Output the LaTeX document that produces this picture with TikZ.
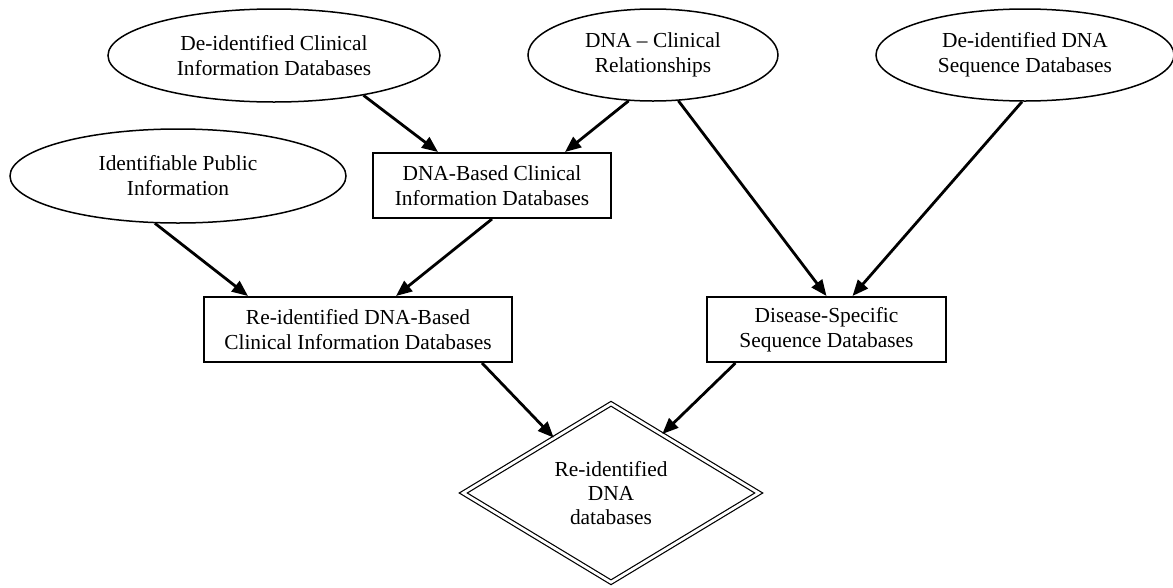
\documentclass[tikz,border=0pt]{standalone}
\usepackage{fontspec}
\setmainfont{Liberation Serif}
\usetikzlibrary{arrows.meta,shapes.geometric}

\begin{document}
\begin{tikzpicture}[
      x=1pt, y=-1pt,
      txt/.style={align=center, inner sep=0pt, font=\fontsize{21.4}{25}\selectfont},
      src/.style={txt, draw, ellipse, line width=1.5pt},
      db/.style={txt, draw, rectangle, line width=2pt, minimum height=65pt},
      goal/.style={txt, draw, diamond, double, double distance=2.8pt, line width=1.2pt,
                   minimum width=296pt, minimum height=179pt, font=\fontsize{21.4}{24}\selectfont},
      arrow/.style={-{Triangle[length=16pt,width=13pt]}, line width=2.8pt},
    ]
    \useasboundingbox (0,0) rectangle (1173,587);

    % source databases
    \node[src, minimum width=332pt, minimum height=93pt] (e1) at (274,55.5)
      {De-identified Clinical\\Information Databases};
    \node[src, minimum width=250pt, minimum height=92pt] (e2) at (653,55)
      {DNA -- Clinical\\Relationships};
    \node[src, minimum width=298pt, minimum height=92pt] (e3) at (1025,55)
      {De-identified DNA\\Sequence Databases};
    \node[src, minimum width=336pt, minimum height=94pt] (e4) at (178,176)
      {Identifiable Public\\Information};

    % derived databases
    \node[db, minimum width=238pt] (r1) at (492,185.5)
      {DNA-Based Clinical\\Information Databases};
    \node[db, minimum width=308pt] (r2) at (358,329.5)
      {Re-identified DNA-Based\\Clinical Information Databases};
    \node[db, minimum width=239pt] (r3) at (826.5,329.5)
      {Disease-Specific\\Sequence Databases};

    % result
    \node[goal] (out) at (611,493) {Re-identified\\DNA\\databases};

    % links
    \draw[arrow] (e1.-24) -- ([xshift=-54pt]r1.north);
    \draw[arrow] (e2.-118) -- ([xshift=73pt]r1.north);
    \draw[arrow] (e2.-61) -- (r3.north);
    \draw[arrow] ([xshift=-3pt]e3.south) -- ([xshift=26pt]r3.north);
    \draw[arrow] (e4.-116) -- ([xshift=-110pt]r2.north);
    \draw[arrow] (r1.south) -- ([xshift=38pt]r2.north);
    \draw[arrow] ([xshift=124pt]r2.south) -- (out.136);
    \draw[arrow] ([xshift=-91pt]r3.south) -- (out.49);
  \end{tikzpicture}
\end{document}
